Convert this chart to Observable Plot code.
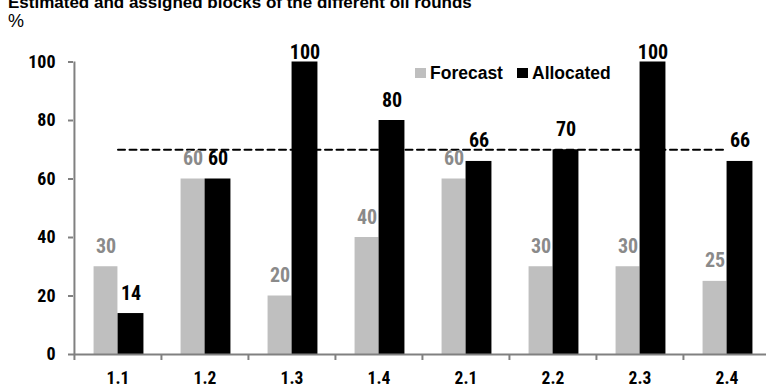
<!DOCTYPE html>
<html><head><meta charset="utf-8">
<script src="https://cdn.jsdelivr.net/npm/d3@7"></script>
<script src="https://cdn.jsdelivr.net/npm/@observablehq/plot@0.6"></script>
<style>
body{margin:0;background:#fff;font-family:"Liberation Sans",Arial,sans-serif;}
#wrap{position:relative;width:766px;height:390px;overflow:hidden;background:#fff;}
#title{position:absolute;left:8px;top:-6px;font-size:17px;font-weight:bold;line-height:1;white-space:nowrap;color:#000;}
#unit{position:absolute;left:8px;top:12px;font-size:18px;line-height:1;color:#000;}
#chart{position:absolute;left:0;top:30px;}
.item{position:absolute;top:64px;font-size:17.5px;font-weight:bold;line-height:18px;display:flex;align-items:center;white-space:nowrap;color:#000;}
.sw{display:inline-block;width:11px;height:10px;margin-right:4px;}
</style></head>
<body>
<div id="wrap">
  <div id="title">Estimated and assigned blocks of the different oil rounds</div>
  <div id="unit">%</div>
  <div id="chart"></div>
  <div class="item" style="left:415px"><span class="sw" style="background:#bfbfbf"></span><span id="l0"></span></div>
  <div class="item" style="left:517px"><span class="sw" style="background:#000"></span><span id="l1"></span></div>
</div>
<script>
const categories = ["1.1","1.2","1.3","1.4","2.1","2.2","2.3","2.4"];
const forecast   = [30, 60, 20, 40, 60, 30, 30, 25];
const allocated  = [14, 60, 100, 80, 66, 70, 100, 66];
const seriesNames = ["Forecast", "Allocated"];
const yTicks = [0, 20, 40, 60, 80, 100];
const referenceLevel = 70;

document.getElementById("l0").textContent = seriesNames[0];
document.getElementById("l1").textContent = seriesNames[1];

const data = categories.map((c, i) => ({cat: c, forecast: forecast[i], allocated: allocated[i]}));

const W = 766, H = 360, left = 73, right = 770;
const bw = (right - left) / categories.length;
const axisGray = "#808080";
const cond = "'Roboto Condensed', 'Liberation Sans', Arial, sans-serif";
const tickFont = {fontSize: 18, fontWeight: "bold", fontFamily: cond};
const catFont = {fontSize: 17.5, fontWeight: "bold", fontFamily: cond};
const labelFont = {fontSize: 20, fontWeight: "bold", fontFamily: cond};

const chart = Plot.plot({
  width: W, height: H,
  marginLeft: left, marginRight: 0, marginTop: 31.5, marginBottom: 36,
  style: {fontFamily: cond, background: "#fff", color: "#000"},
  x: {domain: categories, range: [left, right], padding: 0},
  y: {domain: [0, 100]},
  marks: [
    Plot.barY(data, {x: "cat", y: "forecast", fill: "#bfbfbf", insetLeft: bw/2 - 24, insetRight: bw/2}),
    Plot.barY(data, {x: "cat", y: "allocated", fill: "#000", insetLeft: bw/2, insetRight: bw/2 - 26}),
    Plot.lineY(categories, {x: d => d, y: () => referenceLevel, stroke: "#000", strokeWidth: 2, strokeDasharray: "7,4.5"}),
    Plot.ruleY([0], {stroke: axisGray, strokeWidth: 2}),
    Plot.ruleX([categories[0]], {y1: 0, y2: 100, dx: -bw/2, stroke: axisGray, strokeWidth: 2}),
    Plot.axisY({ticks: yTicks, tickSize: 5, tickPadding: 13, stroke: axisGray, strokeWidth: 2, fill: "#000", label: null, ...tickFont}),
    Plot.axisX({tickSize: 6, dx: -bw/2, tickFormat: () => "", stroke: axisGray, strokeWidth: 2, label: null}),
    Plot.axisX({tickSize: 0, tickPadding: 17, fill: "#000", label: null, ...catFont}),
    Plot.text(data, {x: "cat", y: "forecast", text: d => String(d.forecast), dx: -12, dy: -14, lineAnchor: "bottom", fill: "#8a8a8a", ...labelFont}),
    Plot.text(data.filter(d => d.allocated < 95), {x: "cat", y: "allocated", text: d => String(d.allocated), dx: 13, dy: -14, lineAnchor: "bottom", fill: "#000", ...labelFont}),
    Plot.text(data.filter(d => d.allocated >= 95), {x: "cat", y: "allocated", text: d => String(d.allocated), dx: 13, dy: -3, lineAnchor: "bottom", fill: "#000", ...labelFont})
  ]
});
document.getElementById("chart").appendChild(chart);
</script>
</body></html>
